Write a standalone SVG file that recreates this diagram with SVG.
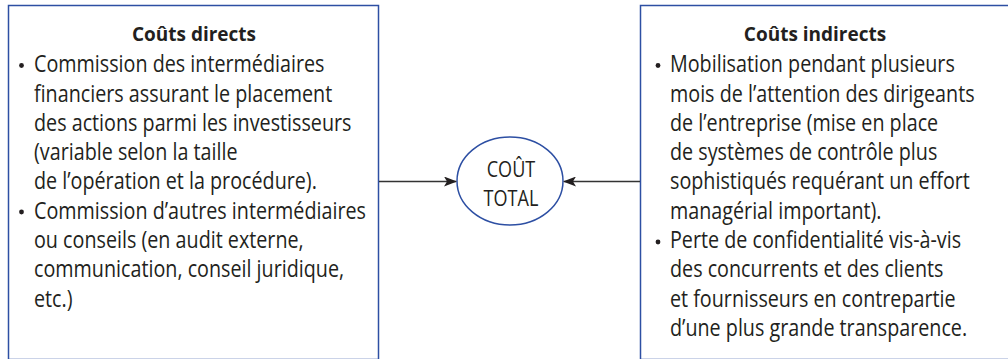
<svg xmlns="http://www.w3.org/2000/svg" width="1008" height="359" viewBox="0 0 1008 359">
<style>
.box{fill:#fff;stroke:#2d4fa3;stroke-width:1.5}
.title{font-family:"Open Sans","Noto Sans",sans-serif;font-weight:bold;font-size:19px;fill:#231f20;text-anchor:middle}
.body{font-family:"Open Sans","Noto Sans",sans-serif;font-size:23.5px;fill:#231f20}
.lbl{font-family:"Open Sans","Noto Sans",sans-serif;font-size:21px;fill:#231f20;text-anchor:middle}
.bul{fill:#231f20}
.conn{stroke:#333;stroke-width:1.3;fill:none}
</style>
<defs>
<marker id="ah" viewBox="0 0 13 10" refX="12" refY="5" markerWidth="13" markerHeight="10" markerUnits="userSpaceOnUse" orient="auto">
<path d="M0,0 L13,5 L0,10 L3,5 Z" fill="#231f20"/>
</marker>
</defs>
<rect width="1008" height="359" fill="#fff"/>
<g id="couts-directs">
<rect class="box" x="8.5" y="5.5" width="370" height="354"/>
<text class="title" x="194" y="41">Coûts directs</text>
<circle class="bul" cx="21.5" cy="65.5" r="2.4"/>
<circle class="bul" cx="21.5" cy="212" r="2.4"/>
<g transform="translate(34,0) scale(0.84,1)">
<text class="body" x="0" y="72.3">Commission des intermédiaires</text>
<text class="body" x="0" y="101.6">financiers assurant le placement</text>
<text class="body" x="0" y="130.9">des actions parmi les investisseurs</text>
<text class="body" x="0" y="160.2">(variable selon la taille</text>
<text class="body" x="0" y="189.5">de l’opération et la procédure).</text>
<text class="body" x="0" y="218.8">Commission d’autres intermédiaires</text>
<text class="body" x="0" y="248.1">ou conseils (en audit externe,</text>
<text class="body" x="0" y="277.4">communication, conseil juridique,</text>
<text class="body" x="0" y="306.7">etc.)</text>
</g>
</g>
<g id="couts-indirects">
<rect class="box" x="640.5" y="5.5" width="380" height="354"/>
<text class="title" x="815" y="41">Coûts indirects</text>
<circle class="bul" cx="658" cy="65.5" r="2.4"/>
<circle class="bul" cx="658" cy="242" r="2.4"/>
<g transform="translate(670,0) scale(0.84,1)">
<text class="body" x="0" y="72.3">Mobilisation pendant plusieurs</text>
<text class="body" x="0" y="101.6">mois de l’attention des dirigeants</text>
<text class="body" x="0" y="130.9">de l’entreprise (mise en place</text>
<text class="body" x="0" y="160.2">de systèmes de contrôle plus</text>
<text class="body" x="0" y="189.5">sophistiqués requérant un effort</text>
<text class="body" x="0" y="218.8">managérial important).</text>
<text class="body" x="0" y="248.1">Perte de confidentialité vis-à-vis</text>
<text class="body" x="0" y="277.4">des concurrents et des clients</text>
<text class="body" x="0" y="306.7">et fournisseurs en contrepartie</text>
<text class="body" x="0" y="336">d’une plus grande transparence.</text>
</g>
</g>
<g id="cout-total">
<ellipse cx="510" cy="181" rx="53" ry="44" fill="#fff" stroke="#2d4fa3" stroke-width="1.5"/>
<g transform="translate(511,0) scale(0.86,1)">
<text class="lbl" x="0" y="177">COÛT</text>
<text class="lbl" x="0" y="206">TOTAL</text>
</g>
</g>
<g id="connectors">
<line class="conn" x1="379" y1="181.5" x2="456" y2="181.5" marker-end="url(#ah)"/>
<line class="conn" x1="640" y1="181.5" x2="564" y2="181.5" marker-end="url(#ah)"/>
</g>
</svg>
